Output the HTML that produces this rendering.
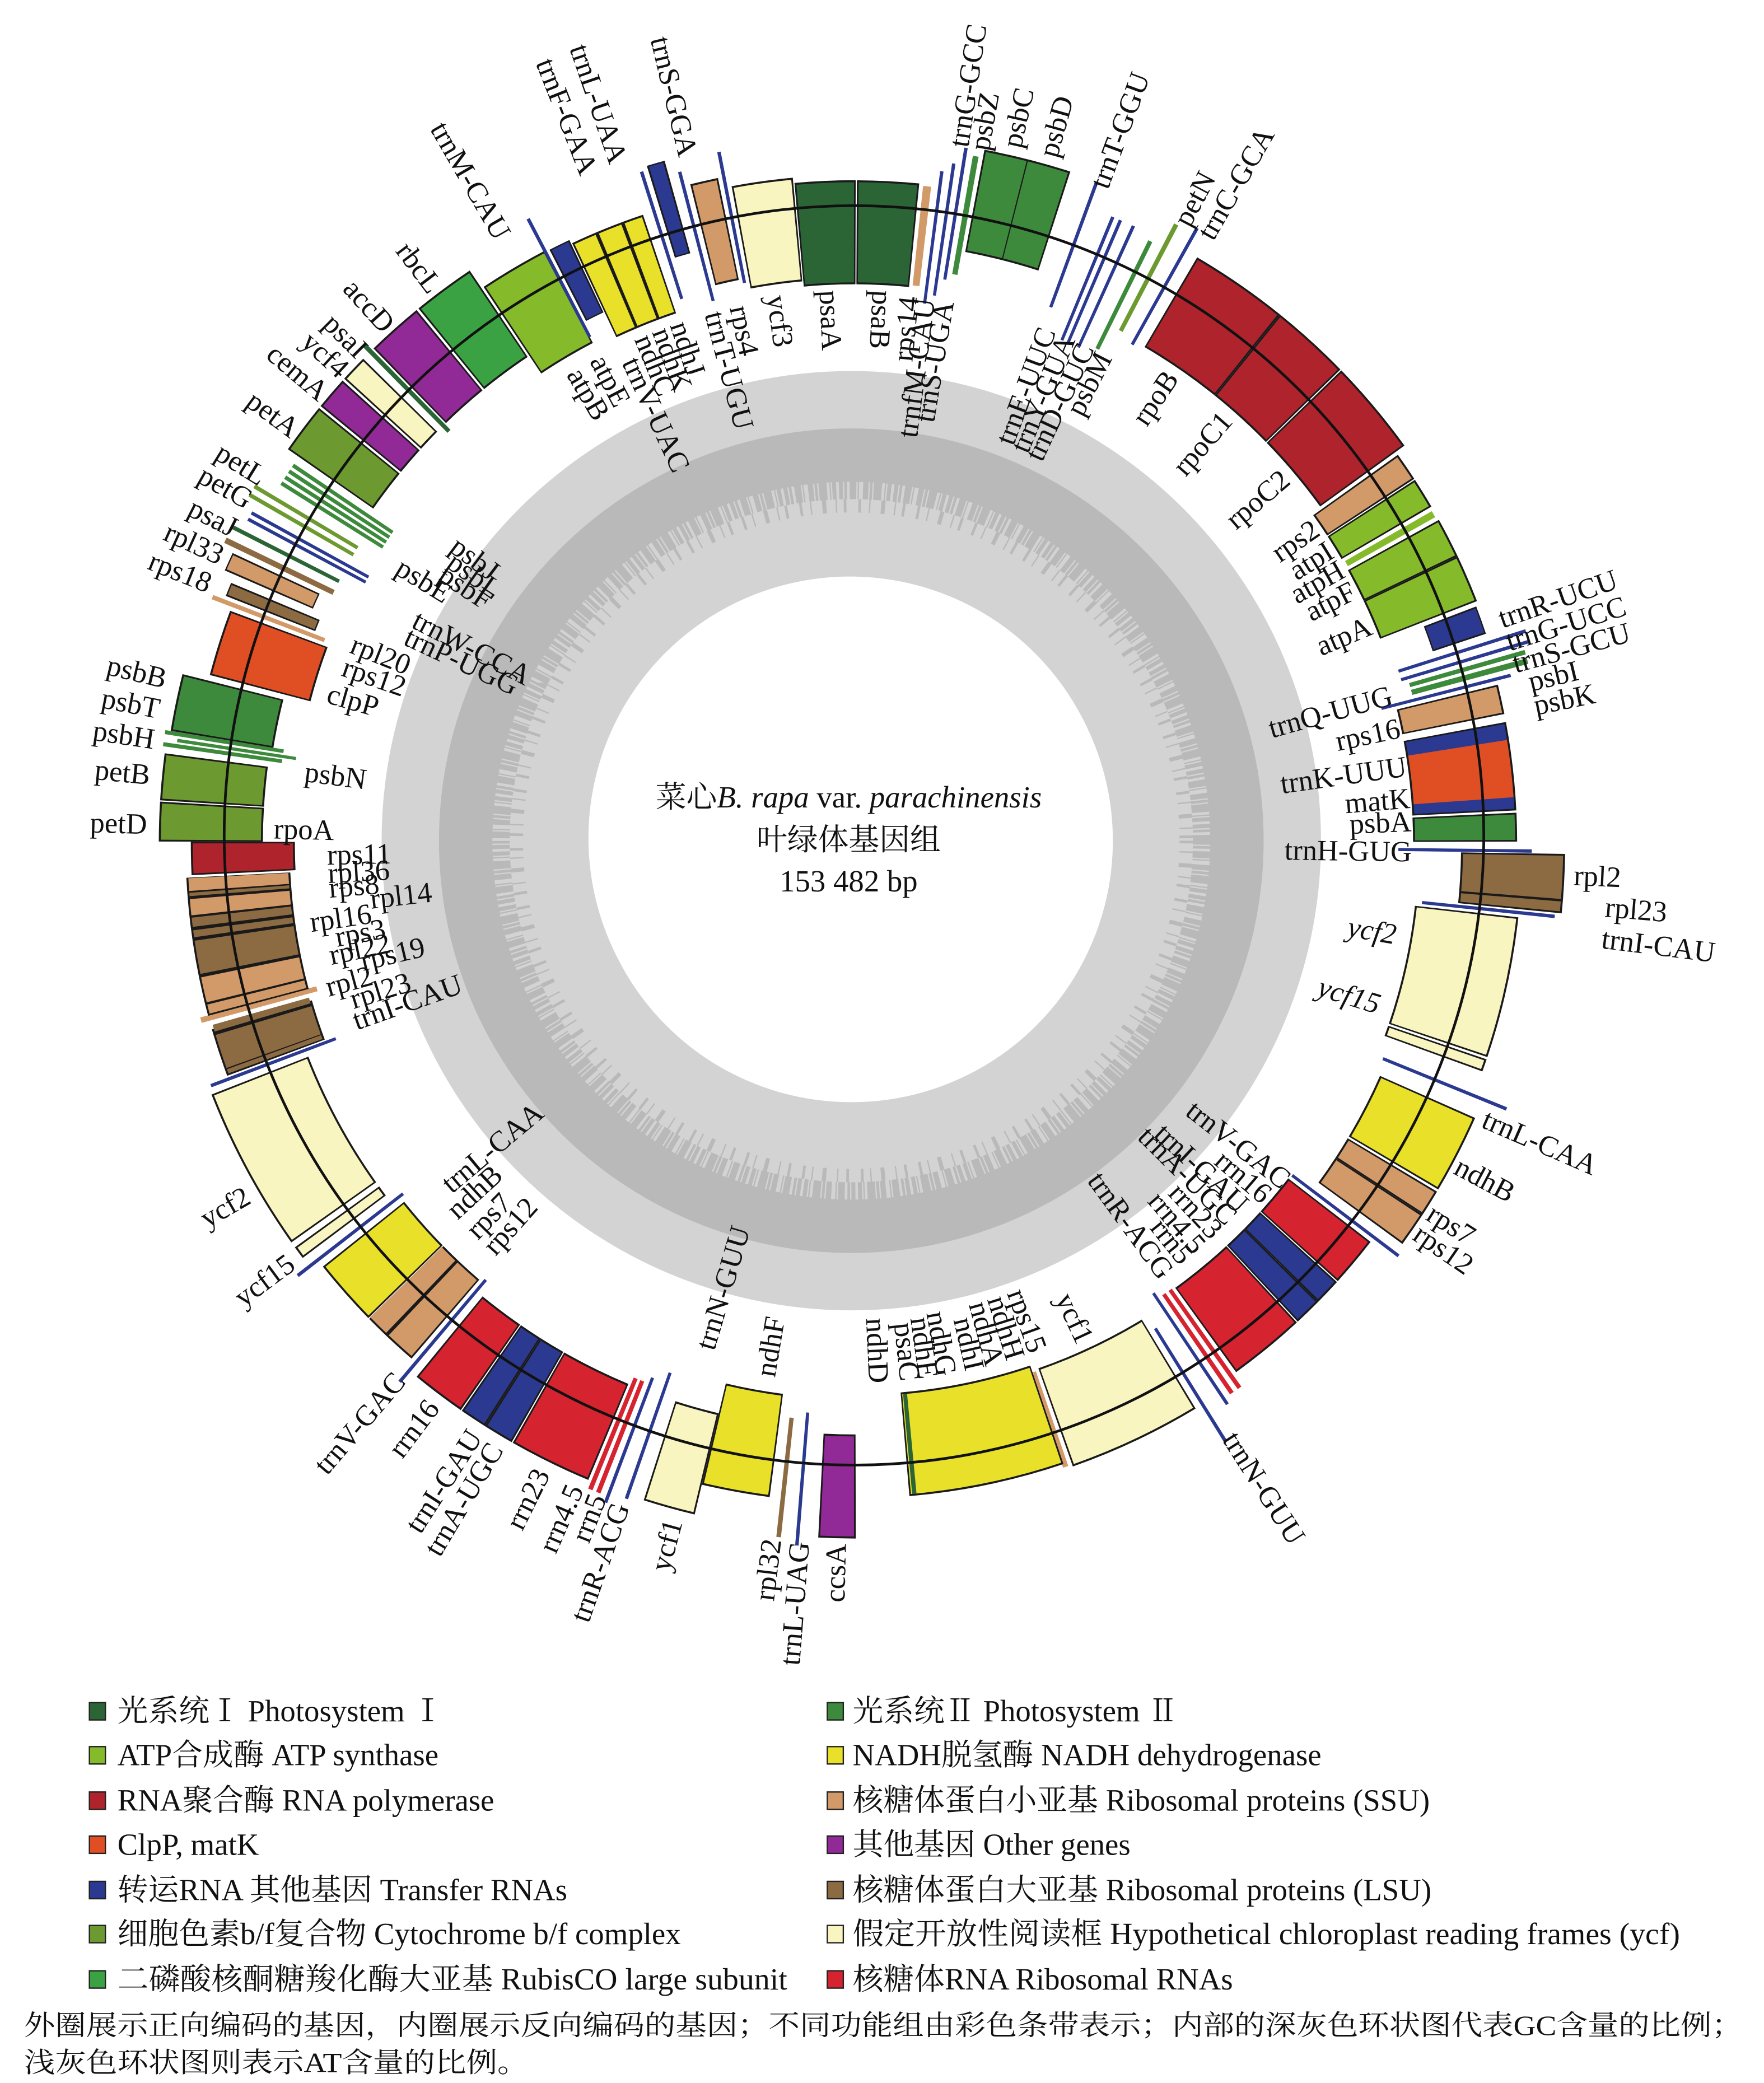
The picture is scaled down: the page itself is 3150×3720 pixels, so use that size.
<!DOCTYPE html>
<html><head><meta charset="utf-8"><style>
html,body{margin:0;padding:0;background:#fff}
svg{display:block}
.b{fill:none;stroke-width:75}
.o{fill:none;stroke:#1a1a1a;stroke-width:78}
.t{fill:none;stroke:#2b3990;stroke-width:100}
.n{fill:none;stroke-width:90}
.p1{stroke:#2b6536}.p2{stroke:#3e8a3c}.at{stroke:#85bb2b}.nd{stroke:#e9e02a}.rp{stroke:#ae232c}.ss{stroke:#d39a69}.cl{stroke:#e04f24}.ot{stroke:#912a96}.tr{stroke:#2b3990}.ls{stroke:#8c6a42}.cy{stroke:#6c9a30}.yc{stroke:#f9f5c0}.ru{stroke:#3ba243}.rr{stroke:#d62330}
.l text{font-family:"Liberation Serif","Noto Serif CJK SC",serif;font-size:22px;fill:#111}
.lg{font-family:"Liberation Serif","Noto Serif CJK SC",serif;font-size:23px;fill:#111}
</style></head><body>
<svg width="3150" height="3720" viewBox="0 0 1322 1561" xmlns="http://www.w3.org/2000/svg">
<rect width="1322" height="1561" fill="#fff"/>
<circle cx="638" cy="630" r="330" fill="none" stroke="#d3d3d3" stroke-width="44"/>
<circle cx="638" cy="630" r="252" fill="none" stroke="#d3d3d3" stroke-width="112"/>
<circle cx="638" cy="630" r="289" fill="none" stroke="#b9b9b9" stroke-width="40"/>
<circle cx="638" cy="630" r="263" fill="none" stroke="#b9b9b9" stroke-width="14" stroke-dasharray="3 1 2 2 5 1 1 3 4 1 2 1 6 2 1 1 3 2"/>
<circle cx="638" cy="630" r="251" fill="none" stroke="#b9b9b9" stroke-width="10" stroke-dasharray="2 6 1 8 3 7 1 5 2 9"/>
<circle cx="637" cy="628" r="196" fill="#fff"/>
<g transform="translate(640 632)">
<circle r="458" class="o" pathLength="360" stroke-dasharray="5.3 400" transform="rotate(264.85)"/>
<circle r="458" class="b p1" pathLength="360" stroke-dasharray="5 400" transform="rotate(265)"/>
<circle r="458" class="o" pathLength="360" stroke-dasharray="5.4 400" transform="rotate(-89.75)"/>
<circle r="458" class="b p1" pathLength="360" stroke-dasharray="5.1 400" transform="rotate(-89.6)"/>
<circle r="458" class="b ss" pathLength="360" stroke-dasharray="0.7 400" transform="rotate(-84)"/>
<circle r="458" class="t" pathLength="360" stroke-dasharray="0.3 400" transform="rotate(-82.7)"/>
<circle r="465" class="t" pathLength="360" stroke-dasharray="0.3 400" transform="rotate(-81.8)"/>
<circle r="478" class="t" pathLength="360" stroke-dasharray="0.3 400" transform="rotate(-81)"/>
<circle r="478" class="n p2" pathLength="360" stroke-dasharray="0.5 400" transform="rotate(-80.2)"/>
<circle r="490" class="o" pathLength="360" stroke-dasharray="7.2 400" transform="rotate(-79.35)"/>
<circle r="490" class="b p2" pathLength="360" stroke-dasharray="3.4 400" transform="rotate(-79.2)"/>
<circle r="490" class="b p2" pathLength="360" stroke-dasharray="3.4 400" transform="rotate(-75.7)"/>
<circle r="478" class="t" pathLength="360" stroke-dasharray="0.3 400" transform="rotate(-70)"/>
<circle r="458" class="t" pathLength="360" stroke-dasharray="0.3 400" transform="rotate(-67.7)"/>
<circle r="458" class="t" pathLength="360" stroke-dasharray="0.3 400" transform="rotate(-67)"/>
<circle r="458" class="t" pathLength="360" stroke-dasharray="0.3 400" transform="rotate(-65.8)"/>
<circle r="458" class="n p2" pathLength="360" stroke-dasharray="0.4 400" transform="rotate(-64)"/>
<circle r="478" class="n cy" pathLength="360" stroke-dasharray="0.4 400" transform="rotate(-62.7)"/>
<circle r="478" class="t" pathLength="360" stroke-dasharray="0.3 400" transform="rotate(-61)"/>
<circle r="470" class="o" pathLength="360" stroke-dasharray="8.5 400" transform="rotate(-59.65)"/>
<circle r="470" class="b rp" pathLength="360" stroke-dasharray="8.2 400" transform="rotate(-59.5)"/>
<circle r="470" class="o" pathLength="360" stroke-dasharray="6.9 400" transform="rotate(-51.15)"/>
<circle r="470" class="b rp" pathLength="360" stroke-dasharray="6.6 400" transform="rotate(-51)"/>
<circle r="470" class="o" pathLength="360" stroke-dasharray="8.3 400" transform="rotate(-44.15)"/>
<circle r="470" class="b rp" pathLength="360" stroke-dasharray="8 400" transform="rotate(-44)"/>
<circle r="462" class="o" pathLength="360" stroke-dasharray="2.5 400" transform="rotate(-35.55)"/>
<circle r="462" class="b ss" pathLength="360" stroke-dasharray="2.2 400" transform="rotate(-35.4)"/>
<circle r="462" class="o" pathLength="360" stroke-dasharray="2.7 400" transform="rotate(-32.95)"/>
<circle r="462" class="b at" pathLength="360" stroke-dasharray="2.4 400" transform="rotate(-32.8)"/>
<circle r="462" class="b at" pathLength="360" stroke-dasharray="0.6 400" transform="rotate(-29.9)"/>
<circle r="462" class="o" pathLength="360" stroke-dasharray="3.5 400" transform="rotate(-28.95)"/>
<circle r="462" class="b at" pathLength="360" stroke-dasharray="3.2 400" transform="rotate(-28.8)"/>
<circle r="462" class="o" pathLength="360" stroke-dasharray="4.2 400" transform="rotate(-25.45)"/>
<circle r="462" class="b at" pathLength="360" stroke-dasharray="3.9 400" transform="rotate(-25.3)"/>
<circle r="478" class="o" pathLength="360" stroke-dasharray="2.5 400" transform="rotate(-20.85)" style="stroke-width:42"/>
<circle r="478" class="b tr" pathLength="360" stroke-dasharray="2.2 400" transform="rotate(-20.7)" style="stroke-width:40"/>
<circle r="478" class="t" pathLength="360" stroke-dasharray="0.3 400" transform="rotate(-17.7)"/>
<circle r="478" class="t" pathLength="360" stroke-dasharray="0.3 400" transform="rotate(-16.8)"/>
<circle r="478" class="n p2" pathLength="360" stroke-dasharray="0.4 400" transform="rotate(-16.1)"/>
<circle r="478" class="n p2" pathLength="360" stroke-dasharray="0.5 400" transform="rotate(-15.4)"/>
<circle r="458" class="t" pathLength="360" stroke-dasharray="0.3 400" transform="rotate(-14.5)"/>
<circle r="458" class="o" pathLength="360" stroke-dasharray="2.6 400" transform="rotate(-13.85)"/>
<circle r="458" class="b ss" pathLength="360" stroke-dasharray="2.3 400" transform="rotate(-13.7)"/>
<circle r="458" class="o" pathLength="360" stroke-dasharray="7.7 400" transform="rotate(-10.55)"/>
<circle r="458" class="b tr" pathLength="360" stroke-dasharray="7.4 400" transform="rotate(-10.4)"/>
<circle r="458" class="b cl" pathLength="360" stroke-dasharray="5 400" transform="rotate(-9)"/>
<circle r="458" class="o" pathLength="360" stroke-dasharray="2.5 400" transform="rotate(-2.65)"/>
<circle r="458" class="b p2" pathLength="360" stroke-dasharray="2.2 400" transform="rotate(-2.5)"/>
<circle r="458" class="t" pathLength="360" stroke-dasharray="0.3 400" transform="rotate(0.5)"/>
<circle r="494" class="o" pathLength="360" stroke-dasharray="4.8 400" transform="rotate(0.85)"/>
<circle r="494" class="b ls" pathLength="360" stroke-dasharray="3.5 400" transform="rotate(1)"/>
<circle r="494" class="b ls" pathLength="360" stroke-dasharray="0.8 400" transform="rotate(4.7)"/>
<circle r="478" class="t" pathLength="360" stroke-dasharray="0.3 400" transform="rotate(5.8)"/>
<circle r="462" class="o" pathLength="360" stroke-dasharray="12.3 400" transform="rotate(6.35)"/>
<circle r="462" class="b yc" pathLength="360" stroke-dasharray="12 400" transform="rotate(6.5)"/>
<circle r="462" class="o" pathLength="360" stroke-dasharray="1.1 400" transform="rotate(18.85)"/>
<circle r="462" class="b yc" pathLength="360" stroke-dasharray="0.8 400" transform="rotate(19)"/>
<circle r="478" class="t" pathLength="360" stroke-dasharray="0.3 400" transform="rotate(22)"/>
<circle r="470" class="o" pathLength="360" stroke-dasharray="6.8 400" transform="rotate(23.85)"/>
<circle r="470" class="b nd" pathLength="360" stroke-dasharray="6.5 400" transform="rotate(24)"/>
<circle r="470" class="o" pathLength="360" stroke-dasharray="2.3 400" transform="rotate(30.85)"/>
<circle r="470" class="b ss" pathLength="360" stroke-dasharray="2 400" transform="rotate(31)"/>
<circle r="470" class="o" pathLength="360" stroke-dasharray="3 400" transform="rotate(33.15)"/>
<circle r="470" class="b ss" pathLength="360" stroke-dasharray="2.7 400" transform="rotate(33.3)"/>
<circle r="462" class="t" pathLength="360" stroke-dasharray="0.3 400" transform="rotate(37)"/>
<circle r="450" class="o" pathLength="360" stroke-dasharray="4.5 400" transform="rotate(37.65)"/>
<circle r="450" class="b rr" pathLength="360" stroke-dasharray="4.2 400" transform="rotate(37.8)"/>
<circle r="450" class="o" pathLength="360" stroke-dasharray="2.4 400" transform="rotate(42.25)"/>
<circle r="450" class="b tr" pathLength="360" stroke-dasharray="2.1 400" transform="rotate(42.4)"/>
<circle r="450" class="o" pathLength="360" stroke-dasharray="2.5 400" transform="rotate(44.65)"/>
<circle r="450" class="b tr" pathLength="360" stroke-dasharray="2.2 400" transform="rotate(44.8)"/>
<circle r="450" class="o" pathLength="360" stroke-dasharray="6.9 400" transform="rotate(47.25)"/>
<circle r="450" class="b rr" pathLength="360" stroke-dasharray="6.6 400" transform="rotate(47.4)"/>
<circle r="455" class="n rr" pathLength="360" stroke-dasharray="0.4 400" transform="rotate(54.5)"/>
<circle r="455" class="n rr" pathLength="360" stroke-dasharray="0.4 400" transform="rotate(55.3)"/>
<circle r="455" class="t" pathLength="360" stroke-dasharray="0.3 400" transform="rotate(56.2)"/>
<circle r="478" class="t" pathLength="360" stroke-dasharray="0.3 400" transform="rotate(58)"/>
<circle r="456" class="o" pathLength="360" stroke-dasharray="11.8 400" transform="rotate(58.85)"/>
<circle r="456" class="b yc" pathLength="360" stroke-dasharray="11.5 400" transform="rotate(59)"/>
<circle r="456" class="b ss" pathLength="360" stroke-dasharray="0.5 400" transform="rotate(71)"/>
<circle r="452" class="o" pathLength="360" stroke-dasharray="13.8 400" transform="rotate(71.35)"/>
<circle r="452" class="b nd" pathLength="360" stroke-dasharray="13.5 400" transform="rotate(71.5)"/>
<circle r="452" class="b p1" pathLength="360" stroke-dasharray="0.4 400" transform="rotate(84.5)"/>
<circle r="482" class="o" pathLength="360" stroke-dasharray="3.1 400" transform="rotate(89.85)"/>
<circle r="482" class="b ot" pathLength="360" stroke-dasharray="2.8 400" transform="rotate(90)"/>
<circle r="478" class="t" pathLength="360" stroke-dasharray="0.3 400" transform="rotate(94.5)"/>
<circle r="478" class="n ls" pathLength="360" stroke-dasharray="0.4 400" transform="rotate(96)"/>
<circle r="455" class="o" pathLength="360" stroke-dasharray="6 400" transform="rotate(97.35)"/>
<circle r="455" class="b nd" pathLength="360" stroke-dasharray="5.7 400" transform="rotate(97.5)"/>
<circle r="478" class="o" pathLength="360" stroke-dasharray="4.4 400" transform="rotate(103.35)"/>
<circle r="478" class="b yc" pathLength="360" stroke-dasharray="4.1 400" transform="rotate(103.5)"/>
<circle r="470" class="t" pathLength="360" stroke-dasharray="0.3 400" transform="rotate(109)"/>
<circle r="478" class="t" pathLength="360" stroke-dasharray="0.3 400" transform="rotate(110.5)"/>
<circle r="478" class="n rr" pathLength="360" stroke-dasharray="0.4 400" transform="rotate(111.3)"/>
<circle r="478" class="n rr" pathLength="360" stroke-dasharray="0.4 400" transform="rotate(112)"/>
<circle r="478" class="o" pathLength="360" stroke-dasharray="7 400" transform="rotate(112.65)"/>
<circle r="478" class="b rr" pathLength="360" stroke-dasharray="6.7 400" transform="rotate(112.8)"/>
<circle r="478" class="o" pathLength="360" stroke-dasharray="2.6 400" transform="rotate(119.75)"/>
<circle r="478" class="b tr" pathLength="360" stroke-dasharray="2.3 400" transform="rotate(119.9)"/>
<circle r="478" class="o" pathLength="360" stroke-dasharray="2.3 400" transform="rotate(122.35)"/>
<circle r="478" class="b tr" pathLength="360" stroke-dasharray="2 400" transform="rotate(122.5)"/>
<circle r="478" class="o" pathLength="360" stroke-dasharray="4.6 400" transform="rotate(124.75)"/>
<circle r="478" class="b rr" pathLength="360" stroke-dasharray="4.3 400" transform="rotate(124.9)"/>
<circle r="478" class="t" pathLength="360" stroke-dasharray="0.3 400" transform="rotate(130)"/>
<circle r="470" class="o" pathLength="360" stroke-dasharray="4.9 400" transform="rotate(130.65)"/>
<circle r="470" class="b ss" pathLength="360" stroke-dasharray="2.6 400" transform="rotate(130.8)"/>
<circle r="470" class="b ss" pathLength="360" stroke-dasharray="1.9 400" transform="rotate(133.7)"/>
<circle r="470" class="o" pathLength="360" stroke-dasharray="5.8 400" transform="rotate(135.65)"/>
<circle r="470" class="b nd" pathLength="360" stroke-dasharray="5.5 400" transform="rotate(135.8)"/>
<circle r="478" class="t" pathLength="360" stroke-dasharray="0.3 400" transform="rotate(142)"/>
<circle r="478" class="o" pathLength="360" stroke-dasharray="1.1 400" transform="rotate(143.05)"/>
<circle r="478" class="b yc" pathLength="360" stroke-dasharray="0.8 400" transform="rotate(143.2)"/>
<circle r="478" class="o" pathLength="360" stroke-dasharray="14 400" transform="rotate(144.65)"/>
<circle r="478" class="b yc" pathLength="360" stroke-dasharray="13.7 400" transform="rotate(144.8)"/>
<circle r="465" class="t" pathLength="360" stroke-dasharray="0.3 400" transform="rotate(159.2)"/>
<circle r="462" class="o" pathLength="360" stroke-dasharray="4.2 400" transform="rotate(159.65)"/>
<circle r="462" class="b ls" pathLength="360" stroke-dasharray="0.4 400" transform="rotate(159.8)"/>
<circle r="462" class="b ls" pathLength="360" stroke-dasharray="3 400" transform="rotate(160.3)"/>
<circle r="462" class="b ls" pathLength="360" stroke-dasharray="0.6 400" transform="rotate(163.6)"/>
<circle r="462" class="n ss" pathLength="360" stroke-dasharray="0.5 400" transform="rotate(164.6)"/>
<circle r="462" class="o" pathLength="360" stroke-dasharray="12 400" transform="rotate(165.05)"/>
<circle r="462" class="b ss" pathLength="360" stroke-dasharray="0.8 400" transform="rotate(165.2)"/>
<circle r="462" class="b ss" pathLength="360" stroke-dasharray="2.2 400" transform="rotate(166.2)"/>
<circle r="462" class="b ls" pathLength="360" stroke-dasharray="2.9 400" transform="rotate(168.7)"/>
<circle r="462" class="b ls" pathLength="360" stroke-dasharray="0.6 400" transform="rotate(171.9)"/>
<circle r="462" class="b ls" pathLength="360" stroke-dasharray="0.8 400" transform="rotate(172.8)"/>
<circle r="462" class="b ss" pathLength="360" stroke-dasharray="1.4 400" transform="rotate(173.8)"/>
<circle r="462" class="b ls" pathLength="360" stroke-dasharray="0.3 400" transform="rotate(175.45)"/>
<circle r="462" class="b ss" pathLength="360" stroke-dasharray="1.1 400" transform="rotate(175.9)"/>
<circle r="458" class="o" pathLength="360" stroke-dasharray="2.9 400" transform="rotate(177.25)"/>
<circle r="458" class="b rp" pathLength="360" stroke-dasharray="2.6 400" transform="rotate(177.4)"/>
<circle r="482" class="o" pathLength="360" stroke-dasharray="3.3 400" transform="rotate(180.15)"/>
<circle r="482" class="b cy" pathLength="360" stroke-dasharray="3 400" transform="rotate(180.3)"/>
<circle r="482" class="o" pathLength="360" stroke-dasharray="3.9 400" transform="rotate(183.55)"/>
<circle r="482" class="b cy" pathLength="360" stroke-dasharray="3.6 400" transform="rotate(183.7)"/>
<circle r="478" class="n p2" pathLength="360" stroke-dasharray="0.35 400" transform="rotate(188)"/>
<circle r="468" class="n p2" pathLength="360" stroke-dasharray="0.3 400" transform="rotate(188.5)"/>
<circle r="478" class="n p2" pathLength="360" stroke-dasharray="0.35 400" transform="rotate(189)"/>
<circle r="480" class="o" pathLength="360" stroke-dasharray="4.8 400" transform="rotate(189.35)"/>
<circle r="480" class="b p2" pathLength="360" stroke-dasharray="4.5 400" transform="rotate(189.5)"/>
<circle r="460" class="o" pathLength="360" stroke-dasharray="5.8 400" transform="rotate(194.65)"/>
<circle r="460" class="b cl" pathLength="360" stroke-dasharray="5.5 400" transform="rotate(194.8)"/>
<circle r="470" class="n ss" pathLength="360" stroke-dasharray="0.4 400" transform="rotate(200.8)"/>
<circle r="470" class="o" pathLength="360" stroke-dasharray="1.2 400" transform="rotate(201.5)" style="stroke-width:72"/>
<circle r="470" class="b ls" pathLength="360" stroke-dasharray="0.9 400" transform="rotate(201.65)" style="stroke-width:70"/>
<circle r="478" class="o" pathLength="360" stroke-dasharray="1.6 400" transform="rotate(203.45)" style="stroke-width:72"/>
<circle r="478" class="b ss" pathLength="360" stroke-dasharray="1.3 400" transform="rotate(203.6)" style="stroke-width:70"/>
<circle r="478" class="n ls" pathLength="360" stroke-dasharray="0.5 400" transform="rotate(205.5)"/>
<circle r="478" class="n p1" pathLength="360" stroke-dasharray="0.35 400" transform="rotate(206.8)"/>
<circle r="465" class="t" pathLength="360" stroke-dasharray="0.3 400" transform="rotate(208)"/>
<circle r="465" class="t" pathLength="360" stroke-dasharray="0.3 400" transform="rotate(208.6)"/>
<circle r="478" class="n cy" pathLength="360" stroke-dasharray="0.35 400" transform="rotate(209.8)"/>
<circle r="478" class="n cy" pathLength="360" stroke-dasharray="0.35 400" transform="rotate(210.6)"/>
<circle r="462" class="n p2" pathLength="360" stroke-dasharray="0.35 400" transform="rotate(212)"/>
<circle r="462" class="n p2" pathLength="360" stroke-dasharray="0.35 400" transform="rotate(212.6)"/>
<circle r="462" class="n p2" pathLength="360" stroke-dasharray="0.35 400" transform="rotate(213.2)"/>
<circle r="462" class="n p2" pathLength="360" stroke-dasharray="0.35 400" transform="rotate(213.8)"/>
<circle r="478" class="o" pathLength="360" stroke-dasharray="4.3 400" transform="rotate(214.85)"/>
<circle r="478" class="b cy" pathLength="360" stroke-dasharray="4 400" transform="rotate(215)"/>
<circle r="478" class="o" pathLength="360" stroke-dasharray="2.8 400" transform="rotate(219.35)"/>
<circle r="478" class="b ot" pathLength="360" stroke-dasharray="2.5 400" transform="rotate(219.5)"/>
<circle r="478" class="o" pathLength="360" stroke-dasharray="2.3 400" transform="rotate(222.35)"/>
<circle r="478" class="b yc" pathLength="360" stroke-dasharray="2 400" transform="rotate(222.5)"/>
<circle r="478" class="n p1" pathLength="360" stroke-dasharray="0.4 400" transform="rotate(225.3)"/>
<circle r="478" class="o" pathLength="360" stroke-dasharray="4.8 400" transform="rotate(225.85)"/>
<circle r="478" class="b ot" pathLength="360" stroke-dasharray="4.5 400" transform="rotate(226)"/>
<circle r="478" class="o" pathLength="360" stroke-dasharray="5.3 400" transform="rotate(230.85)"/>
<circle r="478" class="b ru" pathLength="360" stroke-dasharray="5 400" transform="rotate(231)"/>
<circle r="462" class="o" pathLength="360" stroke-dasharray="6.1 400" transform="rotate(236.35)"/>
<circle r="462" class="b at" pathLength="360" stroke-dasharray="5.8 400" transform="rotate(236.5)"/>
<circle r="478" class="t" pathLength="360" stroke-dasharray="0.3 400" transform="rotate(242.3)"/>
<circle r="470" class="o" pathLength="360" stroke-dasharray="1.9 400" transform="rotate(242.85)" style="stroke-width:60"/>
<circle r="470" class="b tr" pathLength="360" stroke-dasharray="1.6 400" transform="rotate(243)" style="stroke-width:58"/>
<circle r="458" class="o" pathLength="360" stroke-dasharray="6.6 400" transform="rotate(244.85)"/>
<circle r="458" class="b nd" pathLength="360" stroke-dasharray="2 400" transform="rotate(245)"/>
<circle r="458" class="b nd" pathLength="360" stroke-dasharray="2.1 400" transform="rotate(247.3)"/>
<circle r="458" class="b nd" pathLength="360" stroke-dasharray="1.6 400" transform="rotate(249.7)"/>
<circle r="478" class="t" pathLength="360" stroke-dasharray="0.3 400" transform="rotate(252.3)"/>
<circle r="495" class="o" pathLength="360" stroke-dasharray="1.5 400" transform="rotate(253)" style="stroke-width:72"/>
<circle r="495" class="b tr" pathLength="360" stroke-dasharray="1.2 400" transform="rotate(253.15)" style="stroke-width:70"/>
<circle r="470" class="t" pathLength="360" stroke-dasharray="0.3 400" transform="rotate(255.3)"/>
<circle r="470" class="o" pathLength="360" stroke-dasharray="2.4 400" transform="rotate(256.05)"/>
<circle r="470" class="b ss" pathLength="360" stroke-dasharray="2.1 400" transform="rotate(256.2)"/>
<circle r="478" class="t" pathLength="360" stroke-dasharray="0.3 400" transform="rotate(258.8)"/>
<circle r="462" class="o" pathLength="360" stroke-dasharray="5.3 400" transform="rotate(259.45)"/>
<circle r="462" class="b yc" pathLength="360" stroke-dasharray="5 400" transform="rotate(259.6)"/>
</g>
<circle cx="640" cy="626" r="472" fill="none" stroke="#111" stroke-width="2"/>
<g class="l" transform="translate(640 632)">
<text transform="rotate(-81.5) translate(528 0)" dy=".35em">trnG-GCC</text>
<text transform="rotate(-79.8) translate(528 0)" dy=".35em">psbZ</text>
<text transform="rotate(-77.3) translate(535 0)" dy=".35em">psbC</text>
<text transform="rotate(-74.3) translate(535 0)" dy=".35em">psbD</text>
<text transform="rotate(-69.6) translate(525 0)" dy=".35em">trnT-GGU</text>
<text transform="rotate(-62.2) translate(525 0)" dy=".35em">petN</text>
<text transform="rotate(-60) translate(525 0)" dy=".35em">trnC-GCA</text>
<text transform="rotate(-19.2) translate(512 0)" dy=".35em">trnR-UCU</text>
<text transform="rotate(-17.2) translate(512 0)" dy=".35em">trnG-UCC</text>
<text transform="rotate(-15.3) translate(512 0)" dy=".35em">trnS-GCU</text>
<text transform="rotate(-13.5) translate(520 0)" dy=".35em">psbI</text>
<text transform="rotate(-11.5) translate(520 0)" dy=".35em">psbK</text>
<text transform="rotate(2.5) translate(540 0)" dy=".35em">rpl2</text>
<text transform="rotate(4.8) translate(565 0)" dy=".35em">rpl23</text>
<text transform="rotate(7.2) translate(565 0)" dy=".35em">trnI-CAU</text>
<text transform="rotate(23.5) translate(515 0)" dy=".35em">trnL-CAA</text>
<text transform="rotate(28) translate(512 0)" dy=".35em">ndhB</text>
<text transform="rotate(32.5) translate(512 0)" dy=".35em">rps7</text>
<text transform="rotate(34.5) translate(512 0)" dy=".35em">rps12</text>
<text transform="rotate(57.5) translate(525 0)" dy=".35em">trnN-GUU</text>
<text transform="rotate(91.5) translate(525 0) rotate(180)" text-anchor="end" dy=".35em">ccsA</text>
<text transform="rotate(94.5) translate(525 0) rotate(180)" text-anchor="end" dy=".35em">trnL-UAG</text>
<text transform="rotate(96.8) translate(525 0) rotate(180)" text-anchor="end" dy=".35em">rpl32</text>
<text transform="rotate(105) translate(525 0) rotate(180)" text-anchor="end" dy=".35em">ycf1</text>
<text transform="rotate(109.5) translate(525 0) rotate(180)" text-anchor="end" dy=".35em">trnR-ACG</text>
<text transform="rotate(111.5) translate(525 0) rotate(180)" text-anchor="end" dy=".35em">rrn5</text>
<text transform="rotate(113.5) translate(525 0) rotate(180)" text-anchor="end" dy=".35em">rrn4.5</text>
<text transform="rotate(116.5) translate(525 0) rotate(180)" text-anchor="end" dy=".35em">rrn23</text>
<text transform="rotate(120.8) translate(525 0) rotate(180)" text-anchor="end" dy=".35em">trnA-UGC</text>
<text transform="rotate(122.8) translate(525 0) rotate(180)" text-anchor="end" dy=".35em">trnI-GAU</text>
<text transform="rotate(127) translate(525 0) rotate(180)" text-anchor="end" dy=".35em">rrn16</text>
<text transform="rotate(130.5) translate(525 0) rotate(180)" text-anchor="end" dy=".35em">trnV-GAC</text>
<text transform="rotate(143.5) translate(525 0) rotate(180)" text-anchor="end" dy=".35em">ycf15</text>
<text transform="rotate(150) translate(525 0) rotate(180)" text-anchor="end" dy=".35em">ycf2</text>
<text transform="rotate(181.6) translate(530 0) rotate(180)" text-anchor="end" dy=".35em">petD</text>
<text transform="rotate(185.6) translate(530 0) rotate(180)" text-anchor="end" dy=".35em">petB</text>
<text transform="rotate(188.5) translate(530 0) rotate(180)" text-anchor="end" dy=".35em">psbH</text>
<text transform="rotate(191) translate(530 0) rotate(180)" text-anchor="end" dy=".35em">psbT</text>
<text transform="rotate(193.5) translate(530 0) rotate(180)" text-anchor="end" dy=".35em">psbB</text>
<text transform="rotate(202) translate(520 0) rotate(180)" text-anchor="end" dy=".35em">rps18</text>
<text transform="rotate(204.5) translate(520 0) rotate(180)" text-anchor="end" dy=".35em">rpl33</text>
<text transform="rotate(207) translate(520 0) rotate(180)" text-anchor="end" dy=".35em">psaJ</text>
<text transform="rotate(209.6) translate(520 0) rotate(180)" text-anchor="end" dy=".35em">petG</text>
<text transform="rotate(211.8) translate(520 0) rotate(180)" text-anchor="end" dy=".35em">petL</text>
<text transform="rotate(216.5) translate(520 0) rotate(180)" text-anchor="end" dy=".35em">petA</text>
<text transform="rotate(220.3) translate(520 0) rotate(180)" text-anchor="end" dy=".35em">cemA</text>
<text transform="rotate(222.8) translate(520 0) rotate(180)" text-anchor="end" dy=".35em">ycf4</text>
<text transform="rotate(225) translate(520 0) rotate(180)" text-anchor="end" dy=".35em">psaI</text>
<text transform="rotate(228) translate(520 0) rotate(180)" text-anchor="end" dy=".35em">accD</text>
<text transform="rotate(233) translate(520 0) rotate(180)" text-anchor="end" dy=".35em">rbcL</text>
<text transform="rotate(240) translate(525 0) rotate(180)" text-anchor="end" dy=".35em">trnM-CAU</text>
<text transform="rotate(248.5) translate(540 0) rotate(180)" text-anchor="end" dy=".35em">trnF-GAA</text>
<text transform="rotate(251) translate(540 0) rotate(180)" text-anchor="end" dy=".35em">trnL-UAA</text>
<text transform="rotate(256.5) translate(530 0) rotate(180)" text-anchor="end" dy=".35em">trnS-GGA</text>
<text transform="rotate(262) translate(415 0) rotate(180)" dy=".35em">ycf3</text>
<text transform="rotate(267.5) translate(415 0) rotate(180)" dy=".35em">psaA</text>
<text transform="rotate(-87) translate(415 0) rotate(180)" dy=".35em">psaB</text>
<text transform="rotate(-84.3) translate(412 0)" text-anchor="end" dy=".35em">rps14</text>
<text transform="rotate(-82.6) translate(412 0)" text-anchor="end" dy=".35em">trnfM-CAU</text>
<text transform="rotate(-80.6) translate(412 0)" text-anchor="end" dy=".35em">trnS-UGA</text>
<text transform="rotate(-69.5) translate(412 0)" text-anchor="end" dy=".35em">trnE-UUC</text>
<text transform="rotate(-67.3) translate(412 0)" text-anchor="end" dy=".35em">trnY-GUA</text>
<text transform="rotate(-65.1) translate(412 0)" text-anchor="end" dy=".35em">trnD-GUC</text>
<text transform="rotate(-63) translate(412 0)" text-anchor="end" dy=".35em">psbM</text>
<text transform="rotate(-56) translate(425 0)" text-anchor="end" dy=".35em">rpoB</text>
<text transform="rotate(-49) translate(425 0)" text-anchor="end" dy=".35em">rpoC1</text>
<text transform="rotate(-40.5) translate(425 0)" text-anchor="end" dy=".35em">rpoC2</text>
<text transform="rotate(-34.5) translate(420 0)" text-anchor="end" dy=".35em">rps2</text>
<text transform="rotate(-31.8) translate(420 0)" text-anchor="end" dy=".35em">atpI</text>
<text transform="rotate(-29.5) translate(420 0)" text-anchor="end" dy=".35em">atpH</text>
<text transform="rotate(-27) translate(420 0)" text-anchor="end" dy=".35em">atpF</text>
<text transform="rotate(-23) translate(420 0)" text-anchor="end" dy=".35em">atpA</text>
<text transform="rotate(-15.5) translate(418 0)" text-anchor="end" dy=".35em">trnQ-UUG</text>
<text transform="rotate(-12) translate(418 0)" text-anchor="end" dy=".35em">rps16</text>
<text transform="rotate(-8) translate(418 0)" text-anchor="end" dy=".35em">trnK-UUU</text>
<text transform="rotate(-4.7) translate(418 0)" text-anchor="end" dy=".35em">matK</text>
<text transform="rotate(-2.3) translate(418 0)" text-anchor="end" dy=".35em">psbA</text>
<text transform="rotate(0.8) translate(418 0)" text-anchor="end" dy=".35em">trnH-GUG</text>
<text transform="rotate(9.5) translate(412 0)" text-anchor="end" dy=".35em" font-style="italic">ycf2</text>
<text transform="rotate(17) translate(412 0)" text-anchor="end" dy=".35em" font-style="italic">ycf15</text>
<text transform="rotate(38) translate(412 0)" text-anchor="end" dy=".35em">trnV-GAC</text>
<text transform="rotate(40.5) translate(408 0)" text-anchor="end" dy=".35em">rrn16</text>
<text transform="rotate(43) translate(400 0)" text-anchor="end" dy=".35em">trnI-GAU</text>
<text transform="rotate(44.8) translate(400 0)" text-anchor="end" dy=".35em">trnA-UGC</text>
<text transform="rotate(47) translate(400 0)" text-anchor="end" dy=".35em">rrn23</text>
<text transform="rotate(49.5) translate(400 0)" text-anchor="end" dy=".35em">rrn4.5</text>
<text transform="rotate(51.3) translate(400 0)" text-anchor="end" dy=".35em">rrn5</text>
<text transform="rotate(54) translate(400 0)" text-anchor="end" dy=".35em">trnR-ACG</text>
<text transform="rotate(65) translate(412 0)" text-anchor="end" dy=".35em">ycf1</text>
<text transform="rotate(70) translate(405 0)" text-anchor="end" dy=".35em">rps15</text>
<text transform="rotate(72.5) translate(405 0)" text-anchor="end" dy=".35em">ndhH</text>
<text transform="rotate(74.8) translate(405 0)" text-anchor="end" dy=".35em">ndhA</text>
<text transform="rotate(77) translate(405 0)" text-anchor="end" dy=".35em">ndhI</text>
<text transform="rotate(80) translate(405 0)" text-anchor="end" dy=".35em">ndhG</text>
<text transform="rotate(82) translate(405 0)" text-anchor="end" dy=".35em">ndhE</text>
<text transform="rotate(84) translate(405 0)" text-anchor="end" dy=".35em">psaC</text>
<text transform="rotate(87.3) translate(405 0)" text-anchor="end" dy=".35em">ndhD</text>
<text transform="rotate(99.5) translate(405 0) rotate(180)" dy=".35em">ndhF</text>
<text transform="rotate(106.5) translate(395 0) rotate(180)" dy=".35em">trnN-GUU</text>
<text transform="rotate(132) translate(410 0) rotate(180)" dy=".35em">rps12</text>
<text transform="rotate(134.5) translate(410 0) rotate(180)" dy=".35em">rps7</text>
<text transform="rotate(137.5) translate(410 0) rotate(180)" dy=".35em">ndhB</text>
<text transform="rotate(140) translate(400 0) rotate(180)" dy=".35em">trnL-CAA</text>
<text transform="rotate(160.5) translate(398 0) rotate(180)" dy=".35em">trnI-CAU</text>
<text transform="rotate(162.8) translate(395 0) rotate(180)" dy=".35em">rpl23</text>
<text transform="rotate(164.8) translate(410 0) rotate(180)" dy=".35em">rpl2</text>
<text transform="rotate(166.6) translate(380 0) rotate(180)" dy=".35em">rps19</text>
<text transform="rotate(168) translate(402 0) rotate(180)" dy=".35em">rpl22</text>
<text transform="rotate(169.8) translate(395 0) rotate(180)" dy=".35em">rps3</text>
<text transform="rotate(171.8) translate(412 0) rotate(180)" dy=".35em">rpl16</text>
<text transform="rotate(173.5) translate(365 0) rotate(180)" dy=".35em">rpl14</text>
<text transform="rotate(175.2) translate(395 0) rotate(180)" dy=".35em">rps8</text>
<text transform="rotate(176.8) translate(395 0) rotate(180)" dy=".35em">rpl36</text>
<text transform="rotate(178.8) translate(395 0) rotate(180)" dy=".35em">rps11</text>
<text transform="rotate(181.5) translate(435 0) rotate(180)" dy=".35em">rpoA</text>
<text transform="rotate(187.5) translate(415 0) rotate(180)" dy=".35em">psbN</text>
<text transform="rotate(196) translate(410 0) rotate(180)" dy=".35em">clpP</text>
<text transform="rotate(199.2) translate(405 0) rotate(180)" dy=".35em">rps12</text>
<text transform="rotate(201.8) translate(405 0) rotate(180)" dy=".35em">rpl20</text>
<text transform="rotate(205) translate(370 0) rotate(180)" dy=".35em">trnP-UGG</text>
<text transform="rotate(207.2) translate(370 0) rotate(180)" dy=".35em">trnW-CCA</text>
<text transform="rotate(211.5) translate(400 0) rotate(180)" dy=".35em">psbE</text>
<text transform="rotate(213.5) translate(370 0) rotate(180)" dy=".35em">psbF</text>
<text transform="rotate(215.3) translate(370 0) rotate(180)" dy=".35em">psbL</text>
<text transform="rotate(217) translate(375 0) rotate(180)" dy=".35em">psbJ</text>
<text transform="rotate(239.5) translate(412 0) rotate(180)" dy=".35em">atpB</text>
<text transform="rotate(242.3) translate(412 0) rotate(180)" dy=".35em">atpE</text>
<text transform="rotate(245.3) translate(400 0) rotate(180)" dy=".35em">trnV-UAC</text>
<text transform="rotate(247.5) translate(412 0) rotate(180)" dy=".35em">ndhC</text>
<text transform="rotate(249.5) translate(412 0) rotate(180)" dy=".35em">ndhK</text>
<text transform="rotate(251.5) translate(412 0) rotate(180)" dy=".35em">ndhJ</text>
<text transform="rotate(255.3) translate(412 0) rotate(180)" dy=".35em">trnT-UGU</text>
<text transform="rotate(258) translate(412 0) rotate(180)" dy=".35em">rps4</text>
</g>
<g class="lg" style="font-size:23px" text-anchor="middle">
<text x="636" y="605">菜心<tspan font-style="italic">B. rapa</tspan> var. <tspan font-style="italic">parachinensis</tspan></text>
<text x="636" y="637">叶绿体基因组</text>
<text x="636" y="668">153 482 bp</text>
</g>
<g stroke="#222" stroke-width="1">
<rect x="67" y="1276" width="12" height="13" fill="#2b6536"/>
<rect x="67" y="1309" width="12" height="13" fill="#85bb2b"/>
<rect x="67" y="1343" width="12" height="13" fill="#ae232c"/>
<rect x="67" y="1376" width="12" height="13" fill="#e04f24"/>
<rect x="67" y="1410" width="12" height="13" fill="#2b3990"/>
<rect x="67" y="1443" width="12" height="13" fill="#6c9a30"/>
<rect x="67" y="1477" width="12" height="13" fill="#3ba243"/>
<rect x="620" y="1276" width="12" height="13" fill="#3e8a3c"/>
<rect x="620" y="1309" width="12" height="13" fill="#e9e02a"/>
<rect x="620" y="1343" width="12" height="13" fill="#d39a69"/>
<rect x="620" y="1376" width="12" height="13" fill="#912a96"/>
<rect x="620" y="1410" width="12" height="13" fill="#8c6a42"/>
<rect x="620" y="1443" width="12" height="13" fill="#f9f5c0"/>
<rect x="620" y="1477" width="12" height="13" fill="#d62330"/>
</g>
<g class="lg">
<text x="88" y="1290">光系统Ⅰ Photosystem Ⅰ</text>
<text x="88" y="1323">ATP合成酶 ATP synthase</text>
<text x="88" y="1357">RNA聚合酶 RNA polymerase</text>
<text x="88" y="1390">ClpP, matK</text>
<text x="88" y="1424">转运RNA 其他基因 Transfer RNAs</text>
<text x="88" y="1457">细胞色素b/f复合物 Cytochrome b/f complex</text>
<text x="88" y="1491" textLength="502" lengthAdjust="spacingAndGlyphs">二磷酸核酮糖羧化酶大亚基 RubisCO large subunit</text>
<text x="639" y="1290">光系统Ⅱ Photosystem Ⅱ</text>
<text x="639" y="1323">NADH脱氢酶 NADH dehydrogenase</text>
<text x="639" y="1357">核糖体蛋白小亚基 Ribosomal proteins (SSU)</text>
<text x="639" y="1390">其他基因 Other genes</text>
<text x="639" y="1424">核糖体蛋白大亚基 Ribosomal proteins (LSU)</text>
<text x="639" y="1457" textLength="620" lengthAdjust="spacingAndGlyphs">假定开放性阅读框 Hypothetical chloroplast reading frames (ycf)</text>
<text x="639" y="1491">核糖体RNA Ribosomal RNAs</text>
<text x="18" y="1525" style="font-size:21px" textLength="1288" lengthAdjust="spacingAndGlyphs">外圈展示正向编码的基因，内圈展示反向编码的基因；不同功能组由彩色条带表示；内部的深灰色环状图代表GC含量的比例；</text>
<text x="18" y="1553" style="font-size:21px" textLength="378" lengthAdjust="spacingAndGlyphs">浅灰色环状图则表示AT含量的比例。</text>
</g>
</svg>
</body></html>
